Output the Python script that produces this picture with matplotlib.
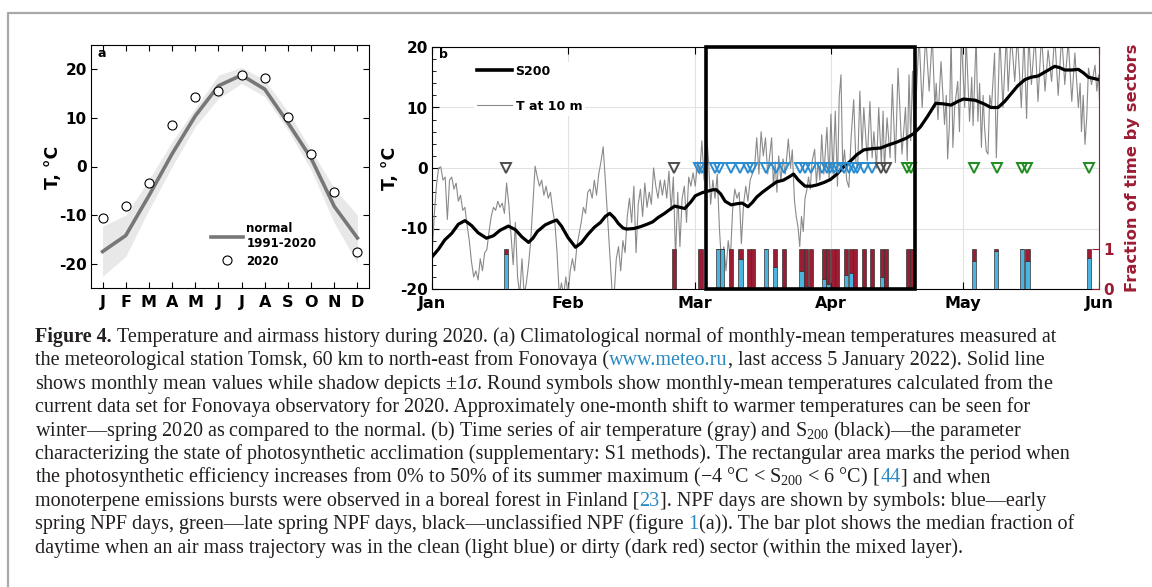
import matplotlib
matplotlib.use('Agg')
import matplotlib.pyplot as plt
from matplotlib.patches import Rectangle
from matplotlib.lines import Line2D
from matplotlib.ticker import MultipleLocator

plt.rcParams['font.family'] = ['DejaVu Sans']
plt.rcParams['font.weight'] = 'bold'
plt.rcParams['axes.unicode_minus'] = False
plt.rcParams['mathtext.fontset'] = 'custom'
plt.rcParams['mathtext.rm'] = 'Liberation Serif:weight=normal:style=normal'
plt.rcParams['mathtext.it'] = 'Liberation Serif:weight=normal:style=italic'
plt.rcParams['mathtext.bf'] = 'Liberation Serif:weight=bold:style=normal'

# ---- panel a: monthly climatology ----
months = ['J', 'F', 'M', 'A', 'M', 'J', 'J', 'A', 'S', 'O', 'N', 'D']
normal_mean = [-17.5, -14.2, -6.0, 2.6, 10.4, 16.6, 18.8, 15.9, 9.0, 1.7, -8.2, -14.7]
normal_hi = [-12.3, -10.0, -2.7, 5.1, 12.0, 18.8, 20.4, 17.8, 11.3, 3.4, -4.5, -10.0]
normal_lo = [-22.6, -18.5, -8.9, 0.0, 8.2, 14.0, 17.1, 14.4, 7.5, -0.7, -11.6, -19.9]
t2020 = [-10.6, -8.1, -3.4, 8.5, 14.2, 15.5, 18.8, 18.2, 10.2, 2.5, -5.2, -17.5]

# ---- panel b: time series (day of year 2020, 0 = Jan 1) ----
t10_day = [
    0.0, 0.5, 1.0, 1.5, 2.0, 2.5, 3.0, 3.5, 4.0, 4.5, 5.0, 5.5, 6.0, 6.5, 7.0, 7.5, 8.0, 8.5, 9.0, 9.5,
    10.0, 10.5, 11.0, 11.5, 12.0, 12.5, 13.0, 13.5, 14.0, 14.5, 15.0, 15.5, 16.0, 16.5, 17.0, 17.5, 18.0, 18.5, 19.0, 19.5,
    20.0, 20.5, 21.0, 21.5, 22.0, 22.5, 23.0, 23.5, 24.0, 24.5, 25.0, 25.5, 26.0, 26.5, 27.0, 27.5, 28.0, 28.5, 29.0, 29.5,
    30.0, 30.5, 31.0, 31.5, 32.0, 32.5, 33.0, 33.5, 34.0, 34.5, 35.0, 35.5, 36.0, 36.5, 37.0, 37.5, 38.0, 38.5, 39.0, 39.5,
    40.0, 40.5, 41.0, 41.5, 42.0, 42.5, 43.0, 43.5, 44.0, 44.5, 45.0, 45.5, 46.0, 46.5, 47.0, 47.5, 48.0, 48.5, 49.0, 49.5,
    50.0, 50.5, 51.0, 51.5, 52.0, 52.5, 53.0, 53.5, 54.0, 54.5, 55.0, 55.5, 56.0, 56.5, 57.0, 57.5, 58.0, 58.5, 59.0, 59.5,
    60.0, 60.5, 61.0, 61.5, 62.0, 62.5, 63.0, 63.5, 64.0, 64.5, 65.0, 65.5, 66.0, 66.5, 67.0, 67.5, 68.0, 68.5, 69.0, 69.5,
    70.0, 70.5, 71.0, 71.5, 72.0, 72.5, 73.0, 73.5, 74.0, 74.5, 75.0, 75.5, 76.0, 76.5,
    77.4, 77.8, 78.2, 78.6, 79.0, 79.5, 80.0, 80.5, 81.2, 81.7, 82.1, 82.6, 83.0, 83.4, 83.8, 84.2, 84.6, 85.0, 85.4, 85.8,
    86.2, 86.6, 87.2, 87.6, 88.0, 88.4, 88.8, 89.3, 90.0, 90.5, 90.9, 91.4, 91.9, 92.4, 92.8, 93.2, 93.6, 94.0, 94.5, 95.0,
    95.5, 96.1, 96.6, 97.0, 97.5, 98.0, 98.4, 99.2, 99.8, 100.3, 100.7, 101.3, 101.8, 102.4, 102.8, 103.1, 103.7, 104.4, 104.9, 105.6,
    106.2, 107.1, 107.9, 108.3, 108.7, 109.1, 109.5, 109.9, 110.5, 111.0, 111.7, 112.5, 113.3, 114.0, 114.6, 114.9, 115.3, 116.0, 116.8, 117.2,
    117.5, 117.9, 118.3, 118.7, 119.1, 119.8, 120.2, 120.6, 121.4, 121.7, 122.5, 123.0, 123.3, 123.6, 124.0, 124.4, 124.8, 125.2, 125.6, 125.9,
    126.3, 126.7, 127.1, 127.5, 128.2, 128.6, 129.4, 130.1, 130.9, 131.3, 132.0, 132.8, 133.4, 134.3, 134.9, 135.5, 136.0, 136.6, 137.4, 138.1,
    138.9, 139.7, 140.4, 141.2, 141.9, 142.7, 143.5, 144.2, 145.0, 145.8, 146.5, 147.3, 147.7, 148.0, 148.4, 148.8, 149.2, 149.6, 150.3, 151.1,
    151.5, 151.9, 152.2]
t10_temp = [
    -14.7, -8, -3, 0, 0.2, -2, -1.5, -8.5, -2, -1.5, -3.5, -2.5, -5.5, -4.5, -7, -6.5, -9.5, -12, -15.5, -18,
    -17, -18.5, -15, -17, -14, -13.5, -10.5, -8, -6.5, -7, -5.5, -6.5, -5.8, -7.5, -2.5, -6, -11, -16, -9, -18,
    -21, -15, -21, -19, -16, -12, -6, 0.3, -1.5, -3, -2, -4.5, -3, -5, -4, -7, -9, -14, -21, -19,
    -21, -18, -21, -17, -15, -17, -13, -11, -9, -6.5, -7.5, -4, -3.5, -5, -2, -4.5, -1, 1, 3.5, -2,
    -8, -14, -20, -21, -15, -13, -17, -12, -14, -8, -5, -9, -3, -14, -6, -3.5, -8, -2.5, -6.5, -4,
    -6, 0, -3, -5, -2, -4.5, -2, -5, -0.5, -7, -1.5, -15, -4, -13, -5, -3, -9, -1.5, -3, -0.8,
    -3, 1, -1, 4.5, -2, 5.7, 1.5, -6, -2, -5, -1, -10, -16, -13, -17, -12, -15, -7, -3.5, -5,
    -4, -12.5, -6, -3, -5.5, -2, -1, 0, 5, -1, 6, 2, 5, -1,
    5, -3, 1, -4, 2, -2, 1.5, -1, 4.8, 0, 3, -5.4, -8, -9.7, -13, -8, -10.5, -5, -3.7, -1.5,
    -3.5, 1, 3.1, -2.5, 1, -2, 5.5, -1, 6.7, -2, 8.9, -1, 9.4, -3, 11.7, 15.4, 0, 3, -2, -3.2,
    5, 11.3, 1, 0, 12.7, 2.8, 10, 1.2, 11, 1.7, 6, 0, 10, 0.7, 9.4, -0.4, 8.3, 1.7, 13.8, 0.9,
    16.5, 2.3, 10, 1.2, 15.4, 4.5, 16, 5, 14, 22, 10, 22, 12.7, 22, 10, 14, 8, 17.6, 7.2, 12,
    1.5, 7, 22, 3.4, 10, 14.3, 6, 22, 10, 22, 7.7, 15, 7, 13, 22, 7.7, 14, 3.4, 12, 7,
    2.8, 2.3, 12, 10, 19, 1.7, 22, 10, 22, 12.7, 22, 14.3, 22, 10, 22, 8.2, 22, 13.8, 22, 11,
    22, 12.7, 19.5, 14.3, 22, 12, 22, 13.8, 21, 11, 19, 10, 14, 6, 12, 3.9, 8.3, 16.5, 13.8, 17,
    12.7, 15.4, 9.4]

s200_day = [0, 1.5, 2.9, 4.5, 6.0, 7.5, 9.0, 10.5, 12.4, 14.0, 15.5, 17.4, 19.0, 20.5, 22.0, 23.0, 24.0, 25.8, 27.0,
            28.4, 29.5, 31.0, 32.7, 34.0, 35.5, 37.0, 38.4, 39.5, 40.5, 41.5, 42.5, 43.5, 44.3, 46.0, 47.5, 49.0,
            50.3, 51.5, 53.0, 54.3, 55.3, 56.5, 57.6, 59.0, 60.0, 61.5, 62.5, 64.0, 64.8, 65.8, 66.8, 68.2, 69.5,
            70.7, 72.0, 73.0, 74.0, 75.3, 76.6, 78.5, 80.1, 81.3, 82.4, 83.5, 85.0, 86.5, 87.7, 89.3, 90.8, 92.3,
            93.8, 95.3, 96.8, 98.4, 100.3, 102.2, 104.0, 106.0, 108.0, 109.8, 111.3, 112.9, 114.8, 116.5, 118.3,
            119.8, 121.1, 123.8, 125.8, 127.4, 129.0, 130.5, 132.0, 133.5, 135.1, 136.5, 138.1, 140.0, 141.9, 143.0,
            144.2, 145.8, 147.3, 148.5, 149.6, 152.0]
s200_temp = [-14.7, -13.4, -11.9, -10.8, -9.3, -8.7, -9.5, -10.7, -11.6, -11.2, -10.3, -9.6, -10.2, -11.4, -12.3,
             -11.6, -10.5, -9.4, -9.0, -8.6, -9.6, -11.5, -13.1, -12.4, -11.0, -9.8, -9.0, -8.0, -7.5, -8.2, -9.2,
             -9.9, -10.1, -10.0, -9.7, -9.3, -8.9, -8.2, -7.5, -6.8, -6.3, -6.5, -6.7, -5.6, -4.6, -4.1, -3.9, -3.6,
             -3.6, -4.3, -5.5, -6.1, -5.9, -5.8, -6.4, -5.7, -4.8, -4.0, -3.3, -2.3, -2.0, -1.5, -1.0, -2.0, -3.0,
             -3.0, -2.8, -2.4, -1.9, -1.0, 0.2, 1.1, 2.2, 3.0, 3.2, 3.3, 3.8, 4.3, 4.9, 5.7, 6.8, 8.5, 10.7, 10.6,
             10.4, 11.0, 11.4, 11.2, 10.6, 10.0, 10.0, 11.0, 12.3, 13.6, 14.6, 15.0, 15.2, 16.0, 16.8, 16.6, 16.2,
             16.2, 16.3, 15.7, 15.0, 14.6]

npf_early = [60.8, 61.5, 64.6, 65.5, 68.2, 70.3, 71.9, 72.9, 76.0, 78.3, 80.2, 83.9, 85.0, 86.4, 88.9, 90.0,
             90.8, 91.5, 92.5, 93.8, 95.0, 96.1, 96.9, 98.4, 100.3]
npf_late = [108.2, 109.2, 123.6, 128.7, 134.4, 135.7, 149.7]
npf_unclassified = [16.9, 55.1, 102.4, 103.4]

bar_day = [16.9, 55.1, 61.2, 65.1, 66.0, 68.2, 70.3, 72.2, 73.2, 76.2, 78.2, 80.2, 84.2, 85.3, 86.4, 89.4, 90.3,
           91.4, 92.3, 94.4, 95.4, 96.4, 98.4, 100.3, 102.6, 103.4, 108.4, 109.4, 123.5, 128.6, 134.5, 135.7, 149.7]
clean_frac = [0.87, 0, 0, 1.0, 1.0, 0, 0.76, 0, 0, 1.0, 0.54, 0, 0.46, 0.08, 0, 0.25, 0.12,
              0, 0, 0.35, 0.41, 0, 0, 0, 0.29, 0, 0.06, 0, 0.7, 0.94, 1.0, 0.69, 0.77]
dirty_frac = [1 - c for c in clean_frac]

period_start, period_end = 62.5, 110.0   # -4 < S200 < 6
month_pos = [0, 31, 60, 91, 121, 152]
month_lab = ['Jan', 'Feb', 'Mar', 'Apr', 'May', 'Jun']

DARKRED = '#9c1c33'
LIGHTBLUE = '#4db4e2'
TXT = '#231f20'
LINK = '#2a8ac2'

W, H = 1152, 587
fig = plt.figure(figsize=(W / 100, H / 100), dpi=100)


def px_box(l, t, r, b):
    return [l / W, 1 - b / H, (r - l) / W, (b - t) / H]


# gray frame of the page
fig.add_artist(Line2D([8 / W, 8 / W, 1], [0, 1 - 13 / H, 1 - 13 / H], color='#a8a8a8', lw=1.6,
                      transform=fig.transFigure))

# ================= panel a =================
axa = fig.add_axes(px_box(91, 45, 369, 288))
mx = list(range(1, 13))
axa.fill_between(mx, normal_lo, normal_hi, color='#e8e8e8', lw=0)
axa.plot(mx, normal_mean, color='#777777', lw=2.6, label='normal\n1991-2020')
axa.plot(mx, t2020, 'o', ms=6.5, mfc='white', mec='black', mew=0.8, label='2020')
axa.set_xlim(0.5, 12.5)
axa.set_ylim(-25, 25)
axa.set_xticks(mx)
axa.set_xticklabels(months, fontsize=11.5, fontweight='bold')
axa.set_yticks([-20, -10, 0, 10, 20])
axa.set_yticklabels(['-20', '-10', '0', '10', '20'], fontsize=11, fontweight='bold')
axa.tick_params(direction='in', top=True, right=True, length=4, width=0.8)
axa.tick_params(axis='x', pad=5)
axa.tick_params(axis='y', pad=3)
axa.text(0.025, 0.963, 'a', transform=axa.transAxes, fontsize=9, fontweight='bold', va='center')
axa.legend(loc='lower left', bbox_to_anchor=(0.41, 0.06), frameon=False,
           prop={'size': 8.5, 'weight': 'bold'}, handlelength=2.7, handletextpad=0.3,
           borderpad=0, labelspacing=0.35)
fig.text(53 / W, 1 - 167 / H, 'T, °C', rotation=90, ha='center', va='center', fontsize=12.5, fontweight='bold')

# ================= panel b =================
axb = fig.add_axes(px_box(432, 47, 1099, 289))
axb.set_axisbelow(True)
axb.grid(True, color='#e2e2e2', lw=0.8)
axb.plot(t10_day, t10_temp, color='#8a8a8a', lw=0.8, zorder=2)
axb.plot(s200_day, s200_temp, color='black', lw=2.3, zorder=3)
axb.plot(npf_early, [0] * len(npf_early), 'v', ms=7.5, mfc='none', mec='#2a8ccf', mew=1.4, zorder=4)
axb.plot(npf_late, [0] * len(npf_late), 'v', ms=7.5, mfc='none', mec='#1f8c1f', mew=1.4, zorder=4)
axb.plot(npf_unclassified, [0] * len(npf_unclassified), 'v', ms=7.5, mfc='none', mec='#4d4d4d', mew=1.4,
         zorder=4)
axb.set_xlim(0, 152)
axb.set_ylim(-20, 20)
axb.set_xticks(month_pos)
axb.set_xticklabels(month_lab, fontsize=11.5, fontweight='bold')
axb.set_yticks([-20, -10, 0, 10, 20])
axb.set_yticklabels(['-20', '-10', '0', '10', '20'], fontsize=11, fontweight='bold')
axb.yaxis.set_minor_locator(MultipleLocator(2))
axb.tick_params(direction='in', top=True, right=False, length=5, width=0.8)
axb.tick_params(which='minor', direction='in', right=False, length=3, width=0.6)
axb.tick_params(axis='x', pad=5)
axb.tick_params(axis='y', pad=3)
axb.spines['right'].set_visible(False)
axb.text(0.011, 0.971, 'b', transform=axb.transAxes, fontsize=9, fontweight='bold', va='center')
hs = [Line2D([], [], color='black', lw=2.6), Line2D([], [], color='#8a8a8a', lw=0.8)]
axb.legend(hs, ['S200', 'T at 10 m'], loc='upper left', bbox_to_anchor=(0.054, 0.965), frameon=True,
           facecolor='white', edgecolor='none', framealpha=1, fancybox=False,
           prop={'size': 9, 'weight': 'bold'}, handlelength=2.8, handletextpad=0.25,
           labelspacing=1.75, borderpad=0.25)
fig.text(390 / W, 1 - 168 / H, 'T, °C', rotation=90, ha='center', va='center', fontsize=12.5, fontweight='bold')

# right axis: fraction of time by sectors
axr = axb.twinx()
axr.bar(bar_day, clean_frac, width=0.95, color=LIGHTBLUE, edgecolor='#333333', lw=0.5, zorder=2)
axr.bar(bar_day, dirty_frac, width=0.95, bottom=clean_frac, color=DARKRED, edgecolor='#333333', lw=0.5,
        zorder=2)
axr.set_ylim(0, 6.05)
axr.set_yticks([0, 1])
axr.set_yticklabels(['0', '1'], fontsize=11, fontweight='bold', color=DARKRED)
axr.tick_params(axis='y', direction='in', length=5, width=0.8, color=DARKRED, pad=3)
for s in ['top', 'bottom', 'left']:
    axr.spines[s].set_visible(False)
axr.spines['right'].set_color(DARKRED)
axr.add_patch(Rectangle((period_start, 0), period_end - period_start, 1, transform=axb.get_xaxis_transform(),
                        fill=False, ec='black', lw=2.6, clip_on=False, zorder=5))
fig.text(1133 / W, 1 - 168 / H, 'Fraction of time by sectors', rotation=90, ha='center', va='center',
         fontsize=11.8, fontweight='bold', color=DARKRED)

# ================= caption =================
# segments: (text, colour, bold)
caption = [
    [('Figure 4.', TXT, True),
     ('Temperature and airmass history during 2020. (a) Climatological normal of '
      'monthly-mean temperatures measured at', TXT, False)],
    [('the meteorological station Tomsk, 60 km to north-east from Fonovaya (', TXT, False),
     ('www.meteo.ru', LINK, False), (', last access 5 January 2022). Solid line', TXT, False)],
    [(r'shows monthly mean values while shadow depicts ±1$\sigma$. Round symbols show monthly-mean '
      r'temperatures calculated from the', TXT, False)],
    [('current data set for Fonovaya observatory for 2020. Approximately one-month shift to warmer '
      'temperatures can be seen for', TXT, False)],
    [(r'winter—spring 2020 as compared to the normal. (b) Time series of air temperature (gray) and '
      r'S$_{200}$ (black)—the parameter', TXT, False)],
    [('characterizing the state of photosynthetic acclimation (supplementary: S1 methods). The rectangular '
      'area marks the period when', TXT, False)],
    [(r'the photosynthetic efficiency increases from 0% to 50% of its summer maximum (−4 °C < S$_{200}$ '
      r'< 6 °C) [', TXT, False), ('44', LINK, False), ('] and when', TXT, False)],
    [('monoterpene emissions bursts were observed in a boreal forest in Finland [', TXT, False),
     ('23', LINK, False), ('].  NPF days are shown by symbols: blue—early'.replace('  ', ' '), TXT, False)],
    [('spring NPF days, green—late spring NPF days, black—unclassified NPF (figure ', TXT, False),
     ('1', LINK, False), ('(a)). The bar plot shows the median fraction of', TXT, False)],
    [('daytime when an air mass trajectory was in the clean (light blue) or dirty (dark red) sector '
      '(within the mixed layer).', TXT, False)],
]

renderer = fig.canvas.get_renderer()
SERIF = 'Liberation Serif'


def text_width(s, fs, weight='normal'):
    t = fig.text(0, 0, s, fontsize=fs, family=SERIF, fontweight=weight)
    w = t.get_window_extent(renderer).width
    t.remove()
    return w


# fit the font so the first line spans the same width as in the page
cap_fs = 14.0
first = 'Figure 4. ' + caption[0][1][0]
cap_fs = cap_fs * 1021 / text_width(first, cap_fs)
space_w = text_width('a a', cap_fs) - text_width('aa', cap_fs)

x0, y0, dy = 35, 342.0, 23.4
for i, segs in enumerate(caption):
    y = y0 + i * dy
    xs = x0
    acc = ''
    for txt, col, bold in segs:
        if bold:
            fig.text(xs / W, 1 - y / H, txt, fontsize=cap_fs, color=col, va='baseline', ha='left',
                     family=SERIF, fontweight='bold')
            xs += text_width(txt, cap_fs, 'bold') + space_w
            continue
        acc += txt
        x = xs + text_width(acc, cap_fs) - text_width(txt, cap_fs)
        fig.text(x / W, 1 - y / H, txt, fontsize=cap_fs, color=col, va='baseline', ha='left',
                 family=SERIF, fontweight='normal')

fig.savefig('out.png', dpi=100)
